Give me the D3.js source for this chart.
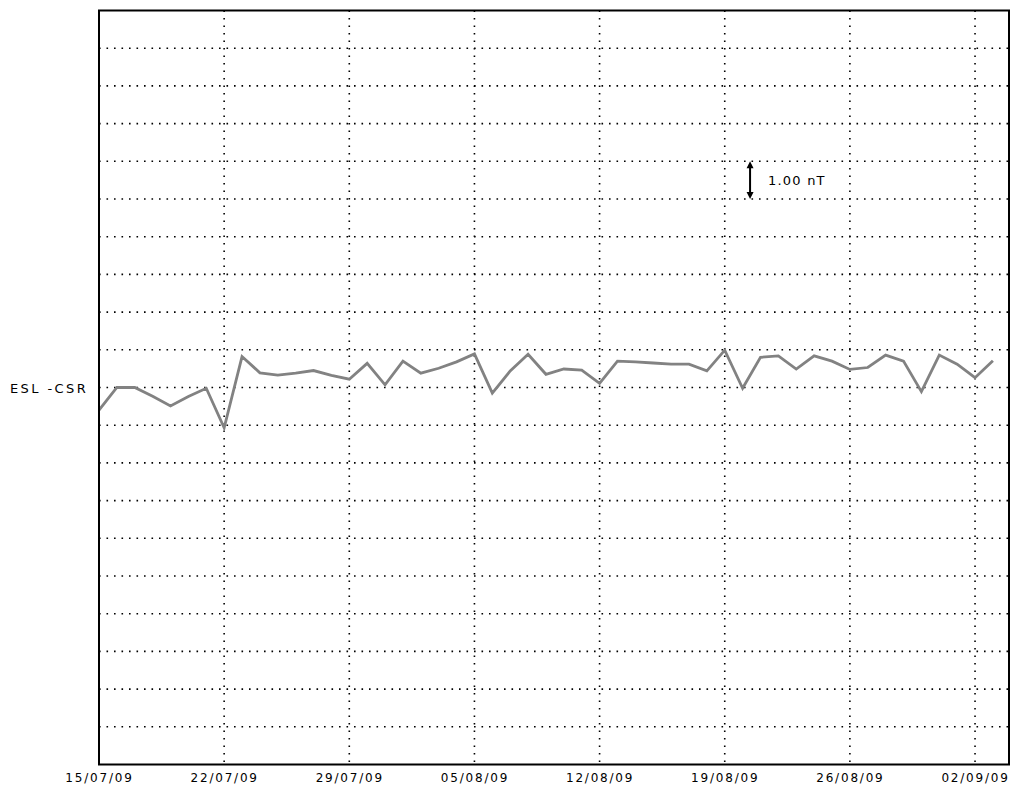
<!DOCTYPE html>
<html>
<head>
<meta charset="utf-8">
<script src="https://cdn.jsdelivr.net/npm/d3@7"></script>
<style>
  html, body { margin: 0; padding: 0; background: #fff; }
  svg { display: block; }
  text { font-family: "DejaVu Sans", sans-serif; fill: #000; }
</style>
</head>
<body>
<svg id="chart" width="1011" height="792"></svg>
<script>
// Daily ESL - CSR difference (nT), starting 15/07/09
const startDate = "15/07/09";
const seriesName = "ESL -CSR";
const values = [
  -0.60, 0.00, 0.00, -0.23, -0.49, -0.24, -0.02, -1.07, 0.82, 0.39,
   0.33, 0.38, 0.45, 0.32, 0.22, 0.64, 0.07, 0.70, 0.38, 0.51,
   0.68, 0.89, -0.15, 0.44, 0.88, 0.35, 0.49, 0.46, 0.11, 0.70,
   0.68, 0.65, 0.62, 0.62, 0.44, 0.99, -0.02, 0.80, 0.84, 0.49,
   0.84, 0.70, 0.48, 0.53, 0.86, 0.70, -0.11, 0.86, 0.62, 0.26,
   0.71
];
const tickLabels = ["15/07/09", "22/07/09", "29/07/09", "05/08/09",
                    "12/08/09", "19/08/09", "26/08/09", "02/09/09"];
const yGrid = [-9, -8, -7, -6, -5, -4, -3, -2, -1, 0, 1, 2, 3, 4, 5, 6, 7, 8, 9];
const scaleBar = { from: 5, to: 6, label: "1.00 nT" };

const parse = d3.utcParse("%d/%m/%y");
const fmt = d3.utcFormat("%d/%m/%y");
const t0 = parse(startDate);
const points = values.map((v, i) => ({ date: d3.utcDay.offset(t0, i), v }));
const tickDates = tickLabels.map(parse);

const plotL = 99, plotR = 1009, plotT = 10.5, plotB = 764.5;
const x = d3.scaleUtc()
  .domain([t0, new Date(+t0 + 50.9 * 864e5)])
  .range([plotL, plotR]);
const y = d3.scaleLinear().domain([-10, 10]).range([plotB, plotT]);

const svg = d3.select("#chart");

// dotted grid
const grid = svg.append("g")
  .attr("stroke", "#000")
  .attr("stroke-width", 1.6)
  .attr("stroke-dasharray", "1.6,5.9");
grid.selectAll("line.h").data(yGrid).join("line")
  .attr("class", "h")
  .attr("x1", plotL).attr("x2", plotR)
  .attr("y1", d => y(d)).attr("y2", d => y(d));
grid.selectAll("line.v").data(tickDates.slice(1)).join("line")
  .attr("class", "v")
  .attr("x1", d => x(d)).attr("x2", d => x(d))
  .attr("y1", plotT).attr("y2", plotB);

// x axis labels
const xAxis = d3.axisBottom(x)
  .tickValues(tickDates)
  .tickFormat(fmt)
  .tickSize(0)
  .tickPadding(9);
const ax = svg.append("g")
  .attr("transform", `translate(0,${plotB})`)
  .call(xAxis);
ax.select(".domain").remove();
ax.selectAll("text")
  .style("font-family", "'DejaVu Sans', sans-serif")
  .style("font-size", "12px")
  .style("letter-spacing", "1.8px");

// data line
const line = d3.line()
  .x(d => x(d.date))
  .y(d => y(d.v));
svg.append("path")
  .datum(points)
  .attr("fill", "none")
  .attr("stroke", "#828282")
  .attr("stroke-width", 2.8)
  .attr("stroke-linejoin", "miter")
  .attr("d", line);

// series label at its baseline
svg.append("text")
  .attr("x", 10)
  .attr("y", y(0) + 5.5)
  .style("font-size", "13px")
  .style("letter-spacing", "2.4px")
  .text(seriesName);

// plot frame
svg.append("rect")
  .attr("x", plotL).attr("y", plotT)
  .attr("width", plotR - plotL).attr("height", plotB - plotT)
  .attr("fill", "none")
  .attr("stroke", "#000")
  .attr("stroke-width", 2);

// 1 nT scale bar
const barX = x(d3.utcHour.offset(t0, Math.round(36.4 * 24)));
const yLo = y(scaleBar.from), yHi = y(scaleBar.to);
const sb = svg.append("g");
sb.append("line")
  .attr("x1", barX).attr("x2", barX)
  .attr("y1", yHi + 3).attr("y2", yLo - 3)
  .attr("stroke", "#000").attr("stroke-width", 2);
sb.append("path")
  .attr("d", `M${barX},${yHi} l-3.5,7 h7 Z M${barX},${yLo} l-3.5,-7 h7 Z`)
  .attr("fill", "#000");
sb.append("text")
  .attr("x", barX + 18)
  .attr("y", (yLo + yHi) / 2 + 5)
  .style("font-size", "13px")
  .style("letter-spacing", "1.2px")
  .text(scaleBar.label);
</script>
</body>
</html>
